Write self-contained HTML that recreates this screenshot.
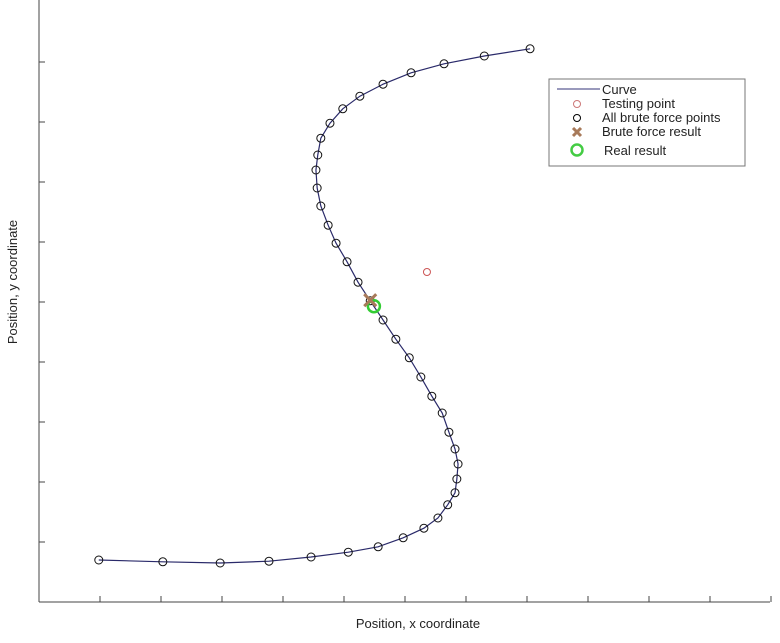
<!DOCTYPE html>
<html><head><meta charset="utf-8"><style>
body{margin:0;background:#fff;font-family:"Liberation Sans",sans-serif}
svg text{font-family:"Liberation Sans",sans-serif;fill:#222}
</style></head><body>
<svg id="chart" width="780" height="638">
<g id="axes"></g>
<g id="marks"></g>
<text x="418" y="628" font-size="13" text-anchor="middle">Position, x coordinate</text>
<text transform="translate(17,282) rotate(-90)" font-size="13" text-anchor="middle">Position, y coordinate</text>
<g>
<rect x="549" y="79" width="196" height="87" fill="#fff" stroke="#777"/>
<line x1="557" y1="89" x2="600" y2="89" stroke="#33337a"/>
<text x="602" y="94" font-size="13">Curve</text>
<circle cx="577" cy="104" r="3.5" fill="none" stroke="#c77"/>
<text x="602" y="108" font-size="13">Testing point</text>
<circle cx="577" cy="118" r="3.5" fill="none" stroke="#000"/>
<text x="602" y="122" font-size="13">All brute force points</text>
<path d="M573,128L581,136M573,136L581,128" stroke="#a87a5a" stroke-width="3"/>
<text x="602" y="136" font-size="13">Brute force result</text>
<circle cx="577" cy="150" r="5.5" fill="none" stroke="#4c4" stroke-width="2.5"/>
<text x="604" y="155" font-size="13">Real result</text>
</g>
</svg>
<script>
const xs=[0.98,2.03,2.97,3.77,4.46,5.07,5.56,5.97,6.31,6.54,6.70,6.82,6.85,6.87,6.82,6.72,6.61,6.44,6.26,6.07,5.85,5.64,5.43,5.23,5.05,4.87,4.74,4.62,4.56,4.54,4.57,4.62,4.77,4.98,5.26,5.64,6.10,6.64,7.30,8.05];
const ys=[0.70,0.67,0.65,0.68,0.75,0.83,0.92,1.07,1.23,1.40,1.62,1.82,2.05,2.30,2.55,2.83,3.15,3.43,3.75,4.07,4.38,4.70,5.02,5.33,5.67,5.98,6.28,6.60,6.90,7.20,7.45,7.73,7.98,8.22,8.43,8.63,8.82,8.97,9.10,9.22];
const testPoint=[6.36,5.50];
const bruteResult=[5.43,5.03];
const realResult=[5.49,4.93];
const xTicks=[1,2,3,4,5,6,7,8,9,10,11,12];
const yTicks=[1,2,3,4,5,6,7,8,9];
const sx=v=>39+v*61, sy=v=>602-v*60;
const NS="http://www.w3.org/2000/svg";
function mk(tag,attrs,parent){const e=document.createElementNS(NS,tag);for(const k in attrs)e.setAttribute(k,attrs[k]);parent.appendChild(e);return e;}
const ax=document.getElementById('axes'), mg=document.getElementById('marks');
let e=mk('line',{x1:39,y1:0,x2:39,y2:602,stroke:'#444'},ax);


e=mk('line',{x1:39,y1:602,x2:770,y2:602,stroke:'#444'},ax);


xTicks.forEach(t=>{const l=mk('line',{x1:sx(t),y1:602,x2:sx(t),y2:596,stroke:'#444'},ax);

});
yTicks.forEach(t=>{const l=mk('line',{x1:39,y1:sy(t),x2:45,y2:sy(t),stroke:'#444'},ax);

});
const p=mk('path',{d:xs.map((x,i)=>(i?'L':'M')+sx(x)+','+sy(ys[i])).join(''),fill:'none',stroke:'#2a2a6a','stroke-width':1.2},mg);


xs.forEach((x,i)=>{const c=mk('circle',{cx:sx(x),cy:sy(ys[i]),r:4,fill:'none',stroke:'#111'},mg);

});
const tp=mk('circle',{cx:sx(testPoint[0]),cy:sy(testPoint[1]),r:3.5,fill:'none',stroke:'#c55'},mg);


const rr=mk('circle',{cx:sx(realResult[0]),cy:sy(realResult[1]),r:6,fill:'none',stroke:'#3c3','stroke-width':2.5},mg);


const bx=sx(bruteResult[0]),by=sy(bruteResult[1]);
const cr=mk('path',{d:`M${bx-6},${by-6}L${bx+6},${by+6}M${bx-6},${by+6}L${bx+6},${by-6}`,stroke:'#a87a5a','stroke-width':3},mg);


</script>
</body></html>
